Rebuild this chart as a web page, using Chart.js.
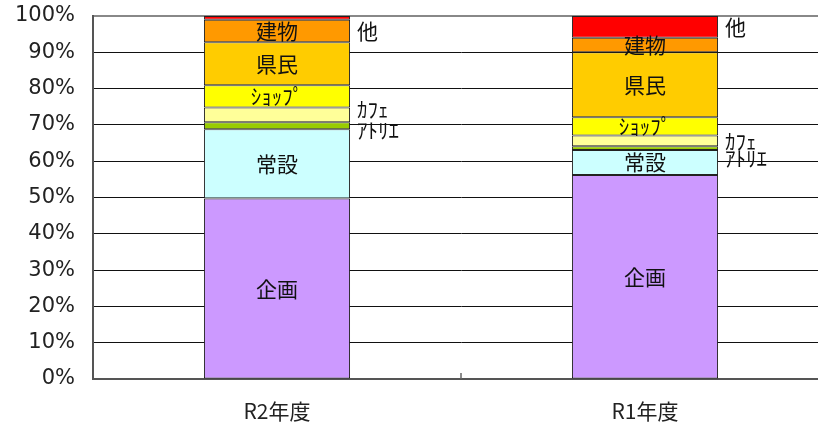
<!DOCTYPE html>
<html>
<head>
<meta charset="utf-8">
<script src="https://cdn.jsdelivr.net/npm/chart.js@4"></script>
<style>
  html, body { margin: 0; padding: 0; background: #fff; overflow: hidden; }
  #wrap { width: 840px; height: 423px; position: relative; }
</style>
</head>
<body>
<div id="wrap"><canvas id="shareChart"></canvas></div>
<script>
/* 利用区分の割合 — 100% stacked bars */
const categories = ['R2年度', 'R1年度'];

// series, bottom to top (%)
const kikaku   = [49.7, 56.2];
const jousetsu = [19.1, 6.9];
const atelier  = [1.9, 1.0];
const cafe     = [4.1, 3.0];
const shop     = [6.1, 5.0];
const kenmin   = [11.9, 17.9];
const tatemono = [6.2, 4.0];
const hoka     = [1.0, 6.0];

const yTicks = [0, 10, 20, 30, 40, 50, 60, 70, 80, 90, 100];

const series = [
  { label: '企画',   data: kikaku,   color: '#CC99FF', inside: true },
  { label: '常設',   data: jousetsu, color: '#CCFFFF', inside: true },
  { label: 'ｱﾄﾘｴ',   data: atelier,  color: '#99CC00', inside: false, nudge: [4, 10] },
  { label: 'ｶﾌｪ',    data: cafe,     color: '#FFFF99', inside: false, nudge: [-6, 0] },
  { label: 'ｼｮｯﾌﾟ',  data: shop,     color: '#FFFF00', inside: true },
  { label: '県民',   data: kenmin,   color: '#FFCC00', inside: true },
  { label: '建物',   data: tatemono, color: '#FF9900', inside: true },
  { label: '他',     data: hoka,     color: '#FF0000', inside: false, nudge: [13, 0] },
];

const JP = '"Noto Sans CJK JP", "DejaVu Sans", sans-serif';

// segment names, inside the bar or just right of it
const segLabels = {
  id: 'segLabels',
  afterDatasetsDraw(chart) {
    const ctx = chart.ctx;
    ctx.save();
    ctx.font = '21px ' + JP;
    ctx.fillStyle = '#111';
    ctx.textBaseline = 'middle';
    series.forEach((s, i) => {
      chart.getDatasetMeta(i).data.forEach((bar, j) => {
        const yMid = (bar.y + bar.base) / 2;
        if (s.inside) {
          ctx.textAlign = 'center';
          ctx.fillText(s.label, bar.x, yMid);
        } else {
          ctx.textAlign = 'left';
          ctx.fillText(s.label, bar.x + bar.width / 2 + 7, yMid + (s.nudge ? s.nudge[j] : 0));
        }
      });
    });
    ctx.restore();
  }
};

// small inward tick between the two categories
const midTick = {
  id: 'midTick',
  afterDraw(chart) {
    const x = chart.scales.x;
    const ctx = chart.ctx;
    const px = (x.getPixelForValue(0) + x.getPixelForValue(1)) / 2;
    ctx.save();
    ctx.strokeStyle = '#666';
    ctx.lineWidth = 1.5;
    ctx.beginPath();
    ctx.moveTo(px, chart.chartArea.bottom);
    ctx.lineTo(px, chart.chartArea.bottom - 6);
    ctx.stroke();
    ctx.restore();
  }
};

new Chart(document.getElementById('shareChart'), {
  type: 'bar',
  data: {
    labels: categories,
    datasets: series.map(s => ({
      label: s.label,
      data: s.data,
      backgroundColor: s.color,
      borderColor: '#222',
      borderWidth: 1,
      borderSkipped: false,
      barPercentage: 0.397,
      categoryPercentage: 1,
    }))
  },
  options: {
    responsive: true,
    maintainAspectRatio: false,
    animation: false,
    layout: { padding: { top: 16, right: 11, left: 0, bottom: 0 } },
    plugins: {
      legend: { display: false },
      tooltip: { enabled: false }
    },
    scales: {
      x: {
        stacked: true,
        offset: true,
        afterFit: s => { s.height = 44; s.paddingLeft = 0; s.paddingRight = 0; },
        grid: { display: false },
        border: { color: '#555', width: 2 },
        ticks: { color: '#222', padding: 11, font: { family: JP, size: 21 } }
      },
      y: {
        stacked: true,
        min: 0,
        max: 100,
        afterFit: s => { s.width = 93; s.paddingTop = 0; s.paddingBottom = 0; },
        afterBuildTicks: s => { s.ticks = yTicks.map(v => ({ value: v })); },
        grid: {
          drawTicks: false,
          color: c => c.tick && c.tick.value === 100 ? '#888' : '#111',
          lineWidth: c => c.tick && c.tick.value === 100 ? 2 : 1
        },
        border: { color: '#555', width: 2 },
        ticks: {
          color: '#222',
          padding: 18,
          font: { family: '"DejaVu Sans", sans-serif', size: 21 },
          callback: v => v + '%'
        }
      }
    }
  },
  plugins: [segLabels, midTick]
});
</script>
</body>
</html>
